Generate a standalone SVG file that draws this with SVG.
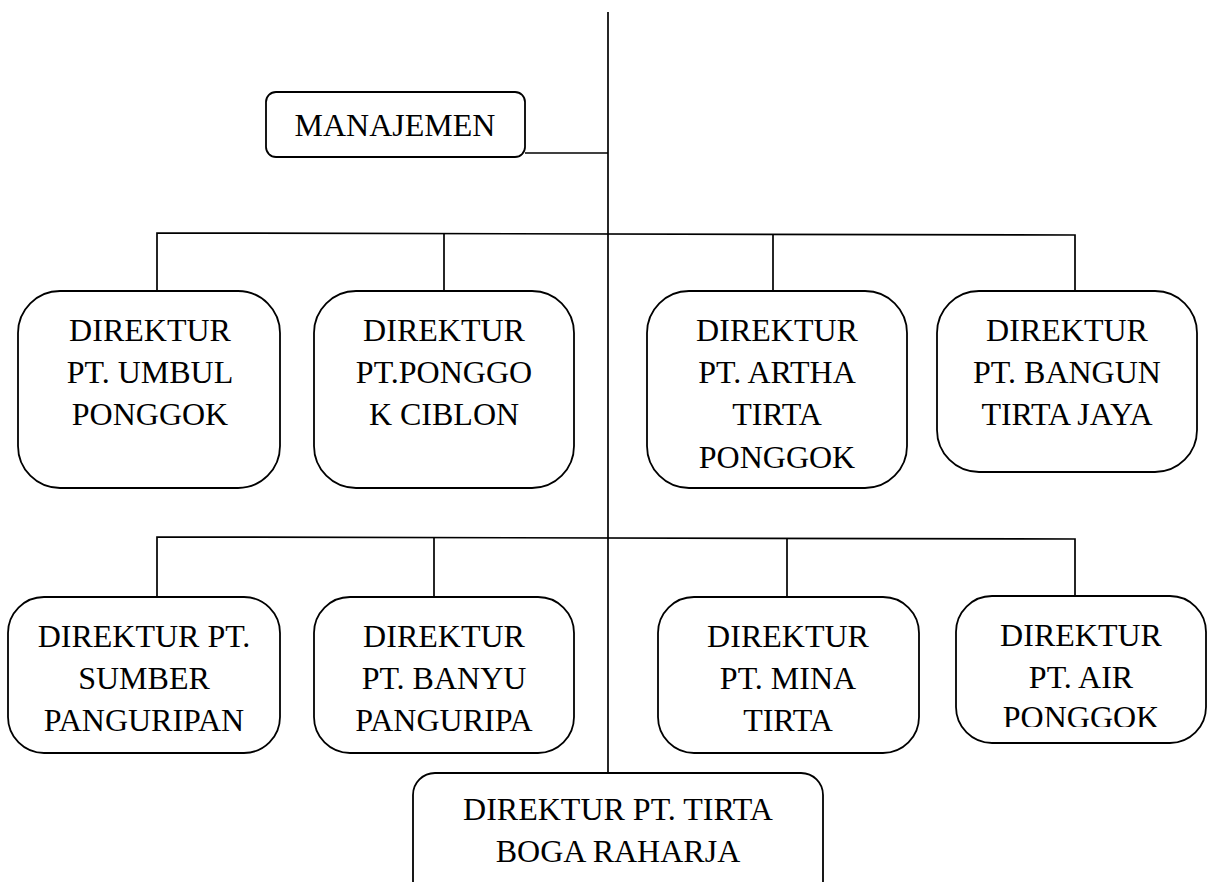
<svg xmlns="http://www.w3.org/2000/svg" width="1208" height="882" viewBox="0 0 1208 882">
<style>
.box{fill:#fff;stroke:#000;stroke-width:1.8}
.ln{stroke:#000;stroke-width:1.7;fill:none}
.t{font-family:"Liberation Serif","Times New Roman",serif;font-size:32px;fill:#000;text-anchor:middle}
</style>
<defs>
<clipPath id="clip8"><rect x="950" y="590" width="258" height="137"/></clipPath>
</defs>
<rect width="1208" height="882" fill="#fff"/>
<g id="connectors">
<line class="ln" x1="608" y1="12" x2="608" y2="773"/>
<line class="ln" x1="525" y1="153" x2="608" y2="153"/>
<path class="ln" d="M157 291 V233 L1075 235 V291"/>
<line class="ln" x1="444" y1="233" x2="444" y2="291"/>
<line class="ln" x1="773" y1="234" x2="773" y2="291"/>
<path class="ln" d="M157 597 V537 L1075 539 V597"/>
<line class="ln" x1="434" y1="538" x2="434" y2="597"/>
<line class="ln" x1="787" y1="538" x2="787" y2="597"/>
</g>
<g class="t">
<g id="manajemen">
<rect class="box" x="266" y="92" width="259" height="65" rx="10"/>
<text x="395" y="136">MANAJEMEN</text>
</g>
<g id="umbul">
<rect class="box" x="18" y="291" width="262" height="197" rx="42"/>
<text x="150" y="341">DIREKTUR</text>
<text x="150" y="383">PT. UMBUL</text>
<text x="150" y="425">PONGGOK</text>
</g>
<g id="ciblon">
<rect class="box" x="314" y="291" width="260" height="197" rx="42"/>
<text x="444" y="341">DIREKTUR</text>
<text x="444" y="383">PT.PONGGO</text>
<text x="444" y="425">K CIBLON</text>
</g>
<g id="artha">
<rect class="box" x="647" y="291" width="260" height="197" rx="42"/>
<text x="777" y="341">DIREKTUR</text>
<text x="777" y="383">PT. ARTHA</text>
<text x="777" y="425">TIRTA</text>
<text x="777" y="468">PONGGOK</text>
</g>
<g id="bangun">
<rect class="box" x="937" y="291" width="260" height="181" rx="42"/>
<text x="1067" y="341">DIREKTUR</text>
<text x="1067" y="383">PT. BANGUN</text>
<text x="1067" y="425">TIRTA JAYA</text>
</g>
<g id="sumber">
<rect class="box" x="8" y="597" width="272" height="156" rx="36"/>
<text x="144" y="647">DIREKTUR PT.</text>
<text x="144" y="689">SUMBER</text>
<text x="144" y="731">PANGURIPAN</text>
</g>
<g id="banyu">
<rect class="box" x="314" y="597" width="260" height="156" rx="36"/>
<text x="444" y="647">DIREKTUR</text>
<text x="444" y="689">PT. BANYU</text>
<text x="444" y="731">PANGURIPA</text>
</g>
<g id="mina">
<rect class="box" x="658" y="597" width="261" height="156" rx="36"/>
<text x="788" y="647">DIREKTUR</text>
<text x="788" y="689">PT. MINA</text>
<text x="788" y="731">TIRTA</text>
</g>
<g id="air">
<rect class="box" x="956" y="596" width="250" height="147" rx="36"/>
<g clip-path="url(#clip8)">
<text x="1081" y="646">DIREKTUR</text>
<text x="1081" y="688">PT. AIR</text>
<text x="1081" y="728">PONGGOK</text>
</g>
</g>
<g id="tirtaboga">
<rect class="box" x="413" y="773" width="410" height="130" rx="22"/>
<text x="618" y="820">DIREKTUR PT. TIRTA</text>
<text x="618" y="862">BOGA RAHARJA</text>
</g>
</g>
</svg>
